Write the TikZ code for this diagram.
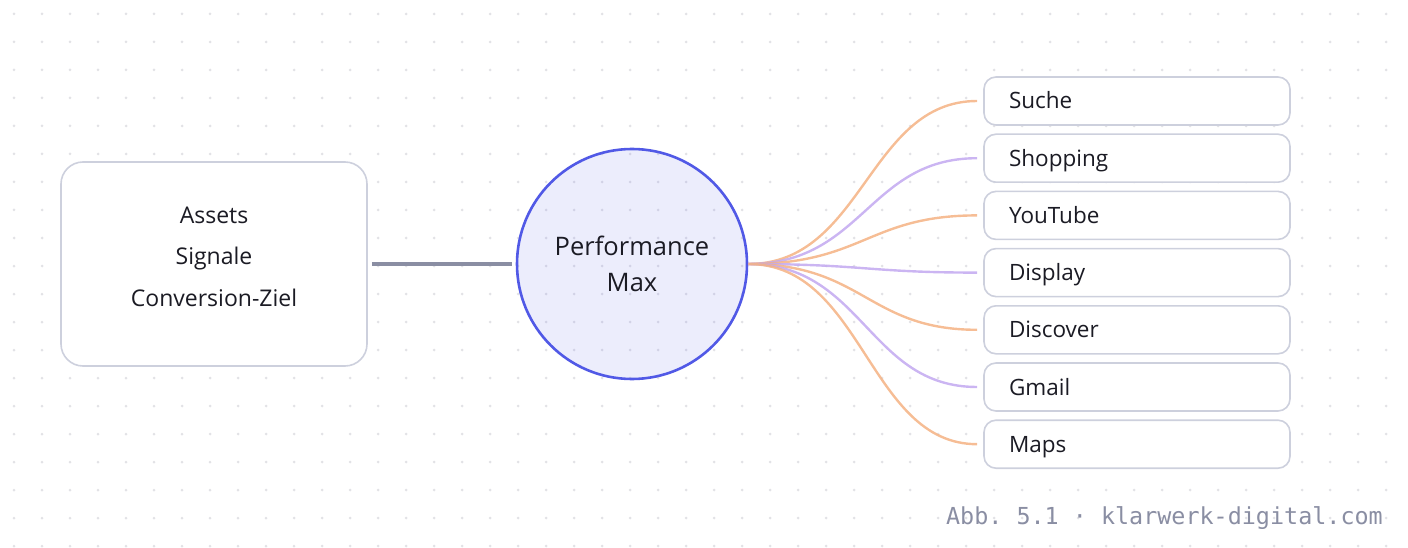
\documentclass[tikz,border=0pt]{standalone}
\usepackage{fontspec}
\setmainfont{Open Sans}
\setmonofont{DejaVu Sans Mono}
\usetikzlibrary{arrows}

\definecolor{dotgray}{HTML}{E2E2E6}
\definecolor{edgegray}{HTML}{CDD0DD}
\definecolor{inkdark}{HTML}{1B1B24}
\definecolor{linkgray}{HTML}{8A8EA3}
\definecolor{pmblue}{HTML}{5159E6}
\definecolor{chorange}{HTML}{F4B283}
\definecolor{chpurple}{HTML}{C2A8F0}

\begin{document}
\begin{tikzpicture}[x=1pt,y=-1pt]
	\tikzstyle{every node}=[text=inkdark, inner sep=0pt]
	\tikzstyle{panel}=[draw=edgegray, line width=1.6pt, fill=white, rounded corners=22pt, minimum width=306pt, minimum height=204pt, align=center, text depth=15pt, font=\fontsize{23}{41.5}\selectfont]
	\tikzstyle{hub}=[circle, draw=pmblue, line width=2.6pt, fill=pmblue, fill opacity=.11, text opacity=1, minimum size=230pt, align=center, font=\fontsize{25.5}{36}\selectfont]
	\tikzstyle{channel}=[draw=edgegray, line width=1.6pt, fill=white, rounded corners=12pt, minimum width=306pt, minimum height=48pt, text width=256pt, text height=18pt, text depth=2pt, align=left, font=\fontsize{22.5}{26}\selectfont]
	\tikzstyle{feed}=[line width=2.4pt, draw opacity=.85]
	\useasboundingbox (0,0) rectangle (1408,548);
	% dotted background
	\foreach \i in {0,...,49}
		\foreach \j in {0,...,19}
			\fill[dotgray] (14+28*\i,14+28*\j) circle (1.5pt);
	\draw (214,264) node (inputs) [panel] {Assets\\Signale\\Conversion-Ziel};
	\draw (632,264) node (pmax) [hub] {Performance\\Max};
	\draw (1137,101) node (suche) [channel] {Suche};
	\draw (1137,158.2) node (shopping) [channel] {Shopping};
	\draw (1137,215.4) node (youtube) [channel] {YouTube};
	\draw (1137,272.6) node (display) [channel] {Display};
	\draw (1137,329.8) node (discover) [channel] {Discover};
	\draw (1137,387) node (gmail) [channel] {Gmail};
	\draw (1137,444.2) node (maps) [channel] {Maps};
	\draw[linkgray, line width=3.6pt, shorten <=4pt, shorten >=4pt] (inputs.east) -- (pmax.west);
	\foreach \ch/\col in {suche/chorange, shopping/chpurple, youtube/chorange, display/chpurple, discover/chorange, gmail/chpurple, maps/chorange}
		\draw[feed, \col, shorten >=6pt] (pmax.east) .. controls +(115,0) and +(-115,0) .. (\ch.west);
	\draw (1383,518) node (credit) [anchor=east, text=linkgray, font=\ttfamily\fontsize{23.4}{26}\selectfont] {Abb. 5.1 · klarwerk-digital.com};
\end{tikzpicture}
\end{document}
